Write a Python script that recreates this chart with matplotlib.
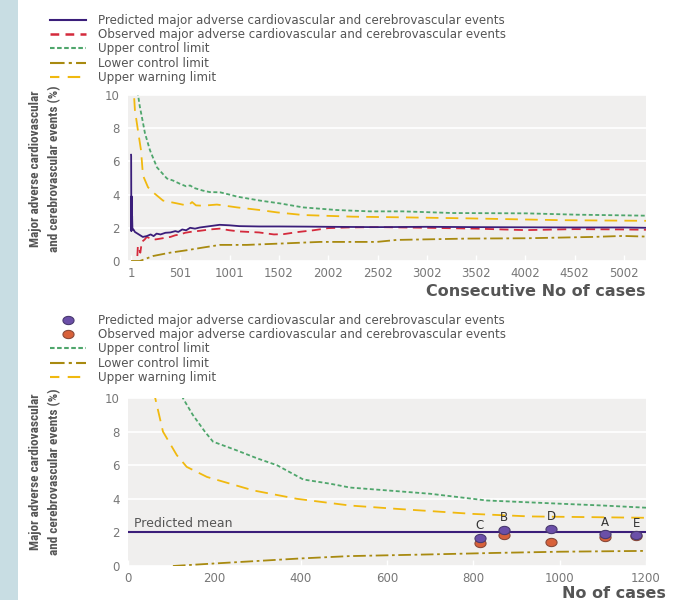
import matplotlib
matplotlib.use("Agg")
import matplotlib.pyplot as plt
import numpy as np
from matplotlib.lines import Line2D
from matplotlib.path import Path
from matplotlib.patches import Rectangle
from matplotlib import font_manager

# ---------------- data: top panel (cumulative) ----------------
pred_x = [1, 2, 4, 6, 9, 12, 15, 25, 40, 80, 120, 160, 200, 230, 260, 300, 350, 400, 450, 480,
          520, 560, 600, 650, 700, 800, 900, 1000, 1100, 1300, 1500, 1800, 2000, 2500, 3000,
          3500, 4000, 4500, 5000, 5230]
pred_y = [6.4, 6.3, 1.8, 3.9, 2.0, 2.7, 1.9, 1.9, 1.75, 1.6, 1.45, 1.5, 1.6, 1.5, 1.65, 1.6, 1.7,
          1.72, 1.8, 1.75, 1.9, 1.85, 2.0, 1.95, 2.02, 2.1, 2.18, 2.15, 2.1, 2.08, 2.08, 2.07, 2.06,
          2.04, 2.06, 2.04, 2.03, 2.02, 2.02, 2.0]

obs_x = [65, 70, 95, 110, 140, 160, 200, 250, 300, 350, 400, 450, 500, 550, 600, 700, 800, 900,
         1000, 1100, 1200, 1300, 1450, 1550, 1700, 1850, 2000, 2200, 2500, 3000, 3500, 4000,
         4500, 5000, 5230]
obs_y = [0.3, 0.9, 0.5, 1.15, 1.3, 1.45, 1.35, 1.3, 1.35, 1.4, 1.45, 1.55, 1.6, 1.7, 1.75, 1.82,
         1.9, 1.95, 1.85, 1.78, 1.75, 1.72, 1.6, 1.62, 1.75, 1.85, 1.98, 2.02, 2.04, 2.0, 1.95,
         1.86, 1.92, 1.9, 1.88]

ucl_x = [60, 72, 90, 110, 142, 193, 264, 365, 426, 497, 560, 600, 640, 730, 800, 903, 1000, 1075,
         1308, 1511, 1745, 2090, 2424, 2760, 3265, 4016, 4523, 5230]
ucl_y = [11.0, 10.0, 9.3, 8.7, 7.7, 6.67, 5.64, 4.97, 4.85, 4.65, 4.5, 4.55, 4.4, 4.24, 4.15, 4.14,
         4.0, 3.88, 3.64, 3.47, 3.23, 3.07, 2.99, 2.99, 2.89, 2.87, 2.79, 2.73]

uwl_x = [25, 31, 40, 70, 102, 122, 173, 224, 325, 467, 578, 620, 660, 730, 872, 1075, 1308, 1480,
         1745, 2251, 2760, 3407, 4350, 5230]
uwl_y = [11.0, 10.0, 9.1, 7.9, 6.67, 5.15, 4.44, 4.14, 3.64, 3.47, 3.33, 3.55, 3.35, 3.33, 3.4,
         3.23, 3.07, 2.93, 2.77, 2.67, 2.63, 2.57, 2.46, 2.42]

lcl_x = [1, 90, 224, 395, 568, 730, 903, 1176, 1511, 1917, 2495, 2697, 3407, 4016, 4685, 4989, 5230]
lcl_y = [0.0, 0.0, 0.3, 0.5, 0.65, 0.81, 0.97, 0.97, 1.05, 1.15, 1.15, 1.27, 1.35, 1.37, 1.45,
         1.51, 1.47]

top_xticks = [1, 501, 1001, 1502, 2002, 2502, 3002, 3502, 4002, 4502, 5002]
top_xticklabels = ["1", "501", "1001", "1502", "2002", "2502", "3002", "3502", "4002", "4502", "5002"]

# ---------------- data: bottom panel (funnel) ----------------
hosp_labels = ["C", "B", "D", "A", "E"]
hosp_cases = [815, 871, 980, 1105, 1177]
hosp_pred = [1.69, 2.14, 2.2, 1.9, 1.84]
hosp_obs = [1.36, 1.84, 1.40, 1.70, 1.80]
pred_mean = 2.0

f_ucl_x = [120, 127, 150, 178, 197, 250, 300, 345, 406, 468, 514, 600, 700, 831, 1008, 1100, 1200]
f_ucl_y = [10.5, 10.0, 9.0, 8.0, 7.4, 6.9, 6.4, 6.0, 5.15, 4.9, 4.67, 4.5, 4.3, 3.9, 3.7, 3.6, 3.47]
f_uwl_x = [58, 63, 81, 113, 136, 183, 290, 391, 514, 623, 800, 931, 1200]
f_uwl_y = [10.5, 10.0, 8.0, 6.6, 5.9, 5.3, 4.5, 4.0, 3.6, 3.4, 3.1, 2.95, 2.87]
f_lcl_x = [104, 200, 300, 400, 514, 700, 854, 1000, 1200]
f_lcl_y = [0.0, 0.15, 0.3, 0.45, 0.59, 0.69, 0.78, 0.85, 0.9]

# ---------------- styles ----------------
C_PRED = "#3b1e7a"
C_OBS = "#d42a3c"
C_UCL = "#4fa66c"
C_LCL = "#a88a10"
C_UWL = "#f0b90f"
C_BG = "#f0efee"
C_TXT = "#555555"
C_TICK = "#777777"
M_PRED = "#6b4fa8"
M_OBS = "#d8613a"

UCL_DASH = (0, (2.2, 1.4))
OBS_DASH = (0, (5, 3))
UWL_DASH = (0, (7, 4))
LCL_DASH = (0, (7, 2, 1.5, 2))

avail = {f.name for f in font_manager.fontManager.ttflist}
narrow = [n for n in ["Liberation Sans Narrow", "Roboto Condensed", "Open Sans Condensed",
                      "DejaVu Sans Condensed", "Liberation Sans"] if n in avail]
if not narrow:
    narrow = ["DejaVu Sans"]

fig = plt.figure(figsize=(6.73, 6.0), dpi=100)
fig.patch.set_facecolor("white")
fig.add_artist(Rectangle((0, 0), 18 / 673, 1, transform=fig.transFigure,
                         facecolor="#c8dde3", edgecolor="none", zorder=0))

W, H = 673.0, 600.0
def ax_rect(l, r, t, b):
    return [l / W, 1 - b / H, (r - l) / W, (b - t) / H]

ax1 = fig.add_axes(ax_rect(128, 646, 95, 261))
ax2 = fig.add_axes(ax_rect(128, 646, 398, 566))

def style_axes(ax):
    ax.set_facecolor(C_BG)
    for s in ax.spines.values():
        s.set_visible(False)
    ax.set_ylim(0, 10)
    ax.set_yticks([0, 2, 4, 6, 8, 10])
    ax.grid(axis="y", color="white", linewidth=1.2)
    ax.set_axisbelow(True)
    ax.tick_params(axis="y", length=0, pad=6, labelsize=8.5, labelcolor=C_TICK)
    ax.tick_params(axis="x", direction="in", length=4, color="white", width=1,
                   pad=4, labelsize=8.5, labelcolor=C_TICK)

style_axes(ax1)
style_axes(ax2)

# top panel
lw = 1.3
ax1.plot(lcl_x, lcl_y, color=C_LCL, lw=lw, linestyle=LCL_DASH)
ax1.plot(uwl_x, uwl_y, color=C_UWL, lw=lw, linestyle=UWL_DASH)
ax1.plot(ucl_x, ucl_y, color=C_UCL, lw=lw, linestyle=UCL_DASH)
ax1.plot(obs_x, obs_y, color=C_OBS, lw=lw, linestyle=OBS_DASH)
ax1.plot(pred_x, pred_y, color=C_PRED, lw=lw)
ax1.set_xlim(-30, 5225)
ax1.set_xticks(top_xticks)
ax1.set_xticklabels(top_xticklabels)

# bottom panel
ax2.plot(f_lcl_x, f_lcl_y, color=C_LCL, lw=lw, linestyle=LCL_DASH)
ax2.plot(f_uwl_x, f_uwl_y, color=C_UWL, lw=lw, linestyle=UWL_DASH)
ax2.plot(f_ucl_x, f_ucl_y, color=C_UCL, lw=lw, linestyle=UCL_DASH)
ax2.axhline(pred_mean, color=C_PRED, lw=1.5, zorder=3)
ax2.text(15, pred_mean + 0.15, "Predicted mean", fontsize=9, color=C_TXT, va="bottom", ha="left")
ax2.set_xlim(0, 1200)
ax2.set_xticks([0, 200, 400, 600, 800, 1000, 1200])

t = np.linspace(0, 2 * np.pi, 40)
ell = Path(np.column_stack([1.35 * np.cos(t), np.sin(t)]), closed=True)
ax2.plot(hosp_cases, hosp_obs, linestyle="none", marker=ell, markersize=8,
         markerfacecolor=M_OBS, markeredgecolor="#8a4a3a", markeredgewidth=0.8, zorder=4)
ax2.plot(hosp_cases, hosp_pred, linestyle="none", marker=ell, markersize=8,
         markerfacecolor=M_PRED, markeredgecolor="#4a3a70", markeredgewidth=0.8, zorder=5)
for lab, xx, yy in zip(hosp_labels, hosp_cases, hosp_pred):
    ax2.annotate(lab, (xx, yy), xytext=(0, 4), textcoords="offset points",
                 ha="center", va="bottom", fontsize=8.5, color="#333333")

# axis labels
ylab = "Major adverse cardiovascular\nand cerebrovascular events (%)"
yfont = dict(family=narrow + ["DejaVu Sans"], fontweight="bold",
             fontsize=9.5, color=C_TXT, rotation=90, ha="center", va="center",
             linespacing=1.55)
fig.text(45 / W, 1 - 169 / H, ylab, **yfont)
fig.text(45 / W, 1 - 472 / H, ylab, **yfont)
fig.text(645 / W, 1 - 292 / H, "Consecutive No of cases", fontsize=11.5, fontweight="bold",
         color=C_TXT, ha="right", va="center")
fig.text(666 / W, 1 - 594 / H, "No of cases", fontsize=11.5, fontweight="bold",
         color=C_TXT, ha="right", va="center")

# legends
lg_labels = ["Predicted major adverse cardiovascular and cerebrovascular events",
             "Observed major adverse cardiovascular and cerebrovascular events",
             "Upper control limit", "Lower control limit", "Upper warning limit"]
h1 = [Line2D([], [], color=C_PRED, lw=1.5),
      Line2D([], [], color=C_OBS, lw=1.8, linestyle=(0, (3.5, 2.5))),
      Line2D([], [], color=C_UCL, lw=1.5, linestyle=(0, (2.2, 1.2))),
      Line2D([], [], color=C_LCL, lw=1.5, linestyle=(0, (7, 2, 1.5, 2))),
      Line2D([], [], color=C_UWL, lw=1.5, linestyle=(1.5, (6, 4)))]
h2 = [Line2D([], [], linestyle="none", marker=ell, markersize=8, markerfacecolor=M_PRED,
             markeredgecolor="#4a3a70", markeredgewidth=0.8),
      Line2D([], [], linestyle="none", marker=ell, markersize=8, markerfacecolor=M_OBS,
             markeredgecolor="#8a4a3a", markeredgewidth=0.8),
      h1[2], h1[3], h1[4]]
legkw = dict(loc="upper left", frameon=False, fontsize=8.6, handlelength=3.0,
             handletextpad=1.0, labelspacing=0.1, borderpad=0, borderaxespad=0,
             labelcolor=C_TXT, handleheight=0.6)
fig.legend(h1, lg_labels, bbox_to_anchor=(50 / W, 1 - 14 / H), **legkw)
fig.legend(h2, lg_labels, bbox_to_anchor=(50 / W, 1 - 314 / H), **legkw)

fig.savefig("out.png", dpi=100)
